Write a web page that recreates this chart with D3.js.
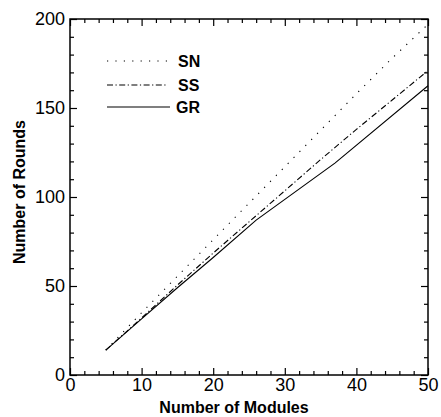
<!DOCTYPE html>
<html>
<head>
<meta charset="utf-8">
<script src="https://cdn.jsdelivr.net/npm/d3@7"></script>
<style>
body { margin: 0; background: #fff; }
text { font-family: "Liberation Sans", Arial, sans-serif; fill: #000; }
</style>
</head>
<body>
<div id="chart"></div>
<script>
// series
var modules = [5, 10, 15, 20, 25, 30, 35, 40, 45, 50];
var sn = [14, 35, 55.5, 76, 96.5, 117, 137.5, 158, 178, 197];
var ss = [14, 32, 50.5, 68.5, 86, 103.5, 121, 138, 154.5, 171];
var grX = [5, 10, 15, 20, 26, 37, 50];
var gr = [14, 31.5, 49, 66, 87, 119, 162.5];
var names = ["SN", "SS", "GR"];
var xTicks = [0, 10, 20, 30, 40, 50];
var yTicks = [0, 50, 100, 150, 200];

var margin = {top: 19, left: 70, right: 13, bottom: 42},
    W = 441, H = 417,
    width = W - margin.left - margin.right,
    height = H - margin.top - margin.bottom;

var svg = d3.select("#chart").append("svg")
    .attr("width", W).attr("height", H);

var g = svg.append("g").attr("transform", "translate(" + margin.left + "," + margin.top + ")");

var x = d3.scaleLinear().domain([0, 50]).range([0, width]),
    y = d3.scaleLinear().domain([0, 200]).range([height, 0]);

function minor(vals, step) { return d3.range(0, vals[vals.length - 1] + 0.01, step).filter(function(v) { return vals.indexOf(v) < 0; }); }

function styleAxis(sel) {
  sel.select(".domain").remove();
  sel.selectAll("line").attr("stroke", "#000").attr("stroke-width", 1.2);
  sel.selectAll("text").style("font-size", "18px").attr("fill", "#000");
}

// bottom
g.append("g").attr("transform", "translate(0," + height + ")")
  .call(d3.axisBottom(x).tickValues(xTicks).tickSize(-7).tickPadding(3).tickFormat(d3.format("d")))
  .call(styleAxis);
g.append("g").attr("transform", "translate(0," + height + ")")
  .call(d3.axisBottom(x).tickValues(minor(xTicks, 2)).tickSize(-4).tickFormat(""))
  .call(styleAxis);
// top
g.append("g")
  .call(d3.axisTop(x).tickValues(xTicks).tickSize(-7).tickFormat(""))
  .call(styleAxis);
g.append("g")
  .call(d3.axisTop(x).tickValues(minor(xTicks, 2)).tickSize(-4).tickFormat(""))
  .call(styleAxis);
// left
g.append("g")
  .call(d3.axisLeft(y).tickValues(yTicks).tickSize(-7).tickPadding(5).tickFormat(d3.format("d")))
  .call(styleAxis);
g.append("g")
  .call(d3.axisLeft(y).tickValues(minor(yTicks, 10)).tickSize(-4).tickFormat(""))
  .call(styleAxis);
// right
g.append("g").attr("transform", "translate(" + width + ",0)")
  .call(d3.axisRight(y).tickValues(yTicks).tickSize(-7).tickFormat(""))
  .call(styleAxis);
g.append("g").attr("transform", "translate(" + width + ",0)")
  .call(d3.axisRight(y).tickValues(minor(yTicks, 10)).tickSize(-4).tickFormat(""))
  .call(styleAxis);

g.append("rect")
  .attr("width", width).attr("height", height)
  .attr("fill", "none").attr("stroke", "#000").attr("stroke-width", 1.5);

var dashes = {SN: "1.2,7.2", SS: "6,2.5,1.2,2.5", GR: null};

var series = [
  {name: "SN", pts: d3.zip(modules, sn)},
  {name: "SS", pts: d3.zip(modules, ss)},
  {name: "GR", pts: d3.zip(grX, gr)}
];

var line = d3.line()
    .x(function(d) { return x(d[0]); })
    .y(function(d) { return y(d[1]); });

g.selectAll(".series")
  .data(series)
  .enter().append("path")
    .attr("class", "series")
    .attr("fill", "none")
    .attr("stroke", "#000")
    .attr("stroke-width", 1.1)
    .attr("stroke-dasharray", function(d) { return dashes[d.name]; })
    .attr("d", function(d) { return line(d.pts); });

// legend
var leg = svg.append("g").attr("transform", "translate(107,61)");
var rowY = [0, 24, 46];
names.forEach(function(n, i) {
  leg.append("line")
    .attr("x1", 0).attr("x2", n == "GR" ? 63 : 61)
    .attr("y1", rowY[i]).attr("y2", rowY[i])
    .attr("stroke", "#000").attr("stroke-width", 1.1)
    .attr("stroke-dasharray", dashes[n]);
  leg.append("text")
    .attr("x", n == "GR" ? 69 : 71)
    .attr("y", rowY[i] + 6)
    .style("font-size", "16px").style("font-weight", "bold")
    .text(n);
});

// axis titles
svg.append("text")
  .attr("x", 234).attr("y", 413)
  .attr("text-anchor", "middle")
  .style("font-size", "16px").style("font-weight", "bold")
  .text("Number of Modules");

svg.append("text")
  .attr("transform", "translate(25,192) rotate(-90)")
  .attr("text-anchor", "middle")
  .style("font-size", "16px").style("font-weight", "bold")
  .text("Number of Rounds");
</script>
</body>
</html>
